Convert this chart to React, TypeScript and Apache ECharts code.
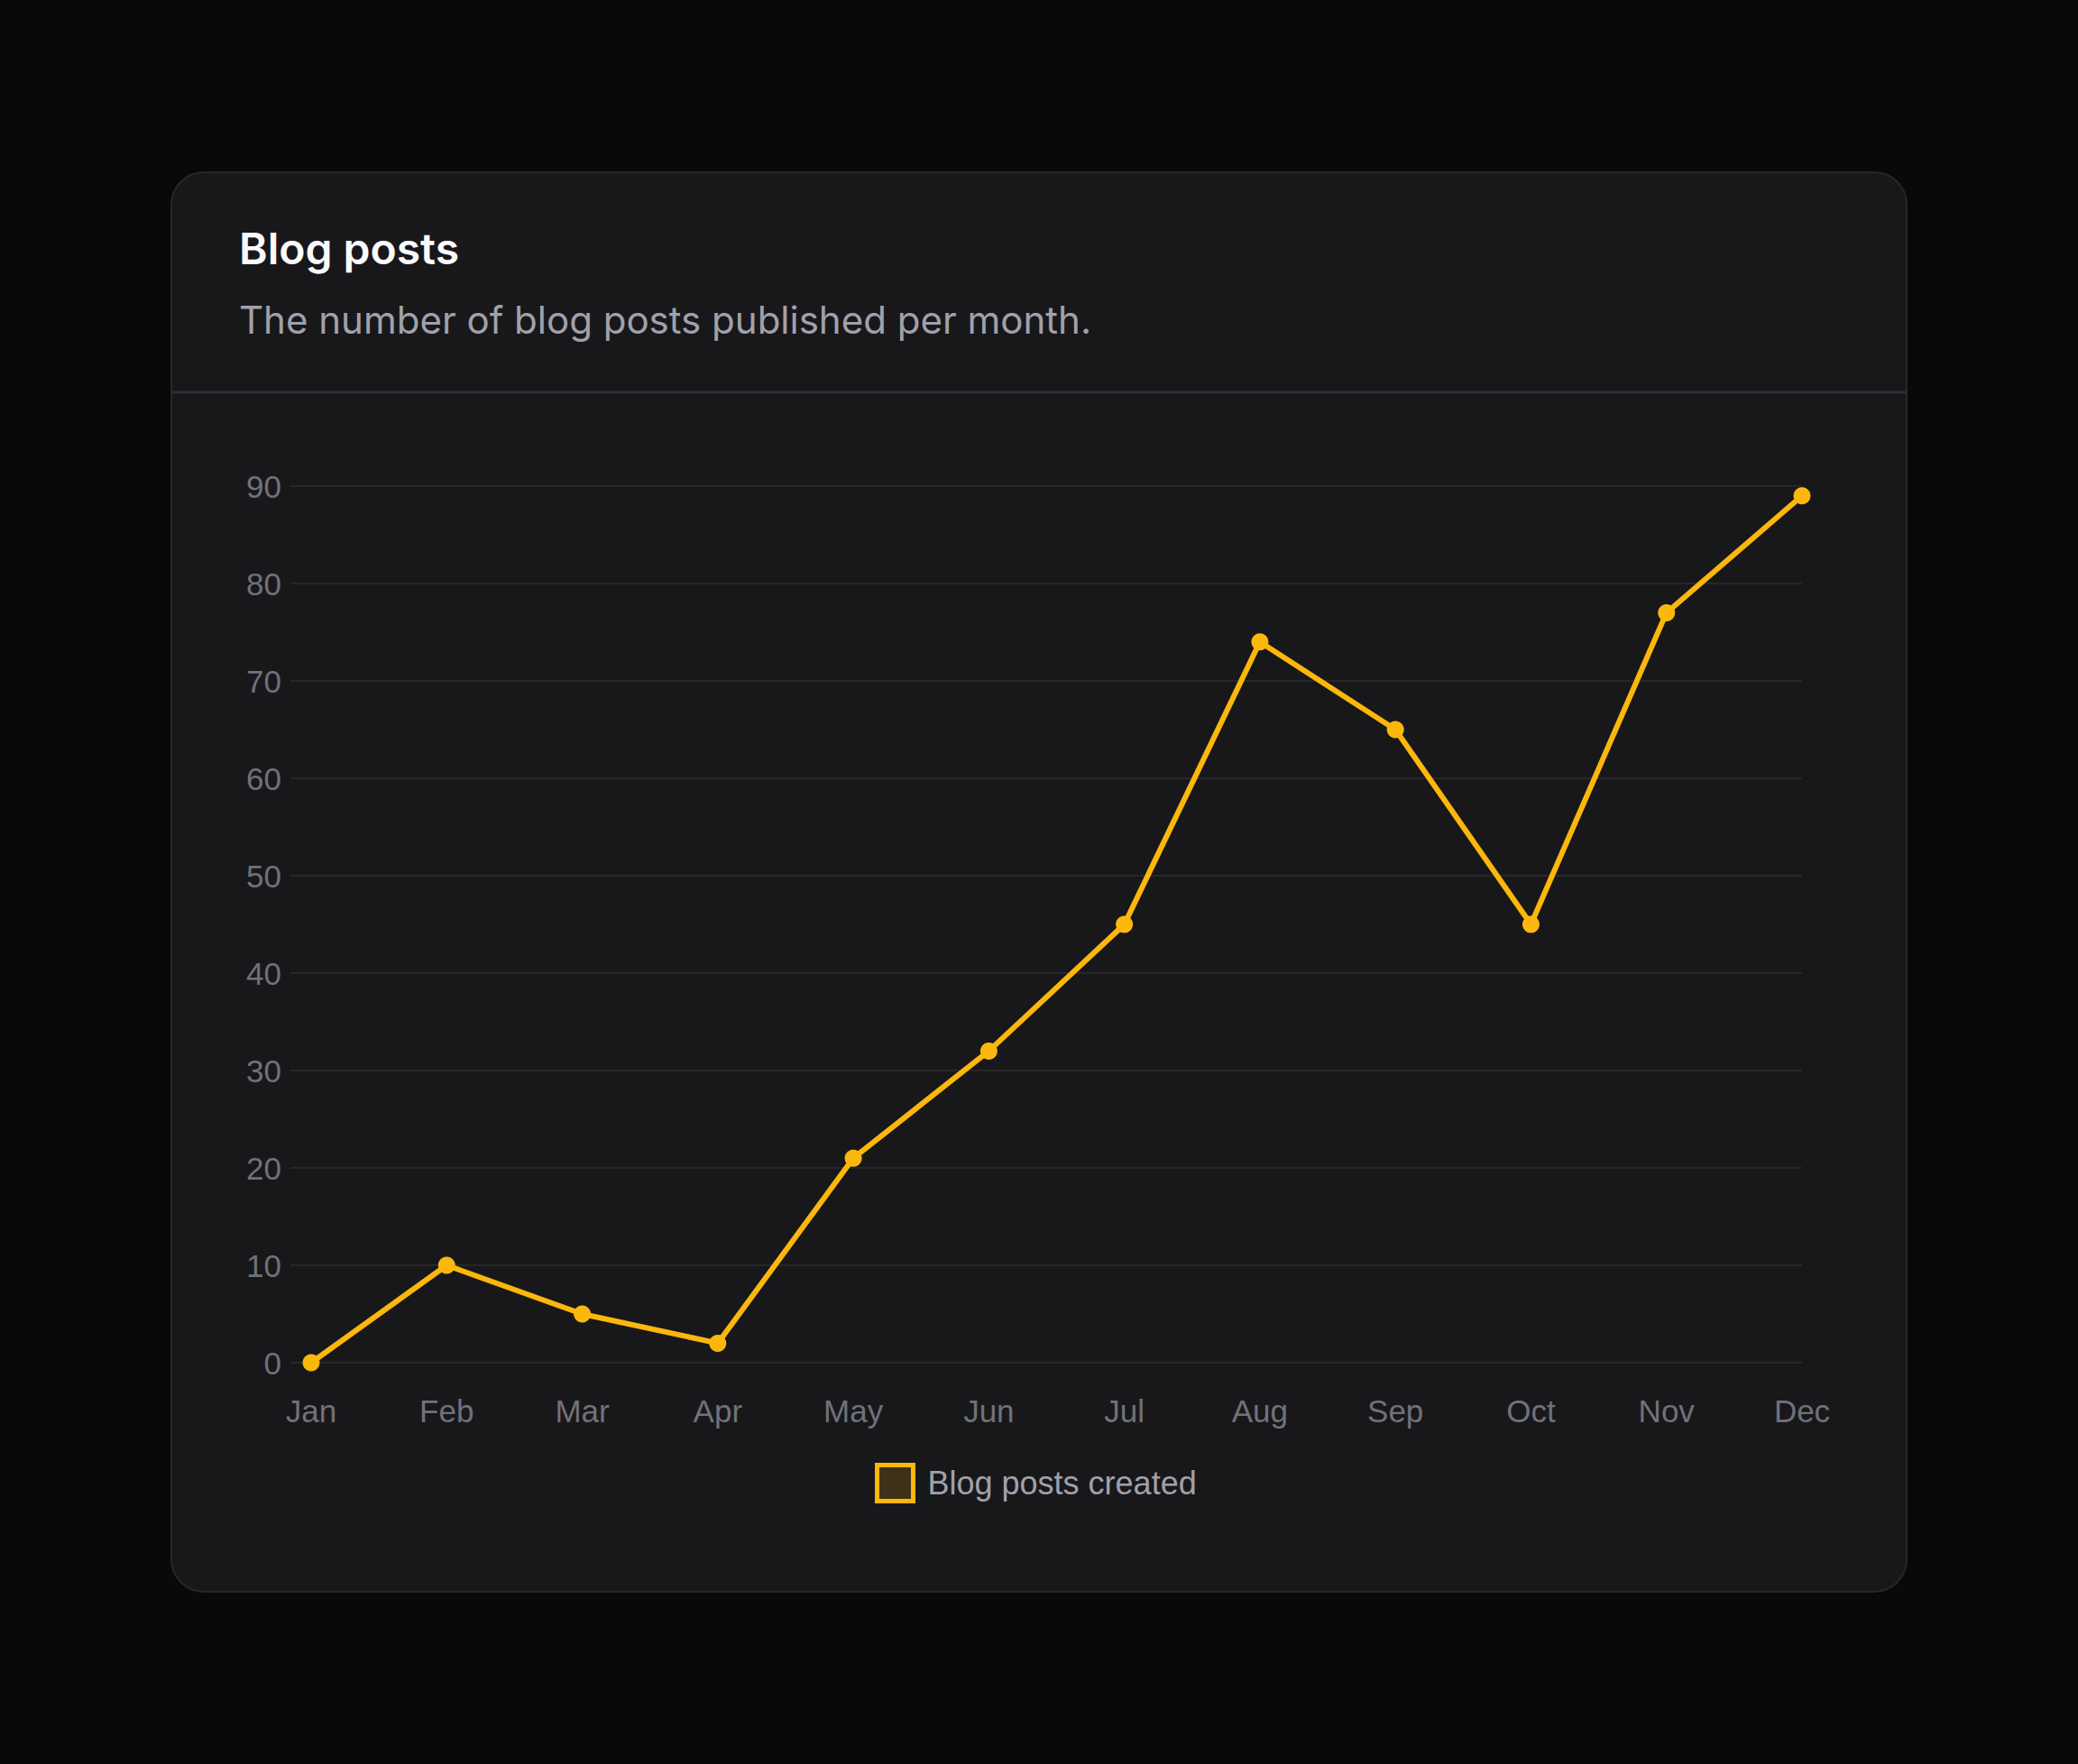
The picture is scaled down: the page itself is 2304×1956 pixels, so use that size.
import { useEffect, useRef } from "react";
import * as echarts from "echarts";

const months = ["Jan", "Feb", "Mar", "Apr", "May", "Jun", "Jul", "Aug", "Sep", "Oct", "Nov", "Dec"];
const postsCreated = [0, 10, 5, 2, 21, 32, 45, 74, 65, 45, 77, 89];
const yTicks = [0, 10, 20, 30, 40, 50, 60, 70, 80, 90];

const seriesName = "Blog posts created";
const titleText = "Blog posts";
const subtitleText = "The number of blog posts published per month.";

const YELLOW = "#fcb70c";

export default function App() {
  const chartRef = useRef<HTMLDivElement>(null);

  useEffect(() => {
    if (!chartRef.current) return;
    const chart = echarts.init(chartRef.current, null, { renderer: "svg" });

    chart.setOption({
      animation: false,
      backgroundColor: "#09090b",
      graphic: [
        {
          type: "rect",
          z: -10,
          silent: true,
          shape: { x: 190, y: 191, width: 1924, height: 1574, r: 36 },
          style: { fill: "#18181b", stroke: "#27272a", lineWidth: 2 },
        },
        {
          type: "line",
          z: -9,
          silent: true,
          shape: { x1: 191, y1: 435, x2: 2113, y2: 435 },
          style: { stroke: "#2e2e32", lineWidth: 3 },
        },
        {
          type: "text",
          x: 265,
          y: 275,
          style: {
            text: titleText,
            fill: "#fafafa",
            font: "600 48px Inter, 'Noto Sans', sans-serif",
            verticalAlign: "middle",
          },
        },
        {
          type: "text",
          x: 265,
          y: 354,
          style: {
            text: subtitleText,
            fill: "#a1a1aa",
            font: "400 42px Inter, 'Noto Sans', sans-serif",
            verticalAlign: "middle",
          },
        },
      ],
      grid: {
        left: 345,
        right: 306,
        top: 539,
        bottom: 445,
        containLabel: false,
      },
      legend: {
        data: [seriesName],
        left: 965,
        top: 1617,
        icon: "rect",
        itemWidth: 40,
        itemHeight: 40,
        itemStyle: {
          color: "rgba(252,183,12,0.16)",
          borderColor: YELLOW,
          borderWidth: 5,
        },
        textStyle: {
          color: "#a1a1aa",
          fontSize: 36,
          fontFamily: "'Liberation Sans', Arial, sans-serif",
          padding: [0, 0, 0, 11],
        },
      },
      xAxis: {
        type: "category",
        data: months,
        boundaryGap: false,
        axisLine: { show: false },
        axisTick: { show: false },
        axisLabel: {
          color: "#71717a",
          fontSize: 35,
          fontFamily: "'Liberation Sans', Arial, sans-serif",
          margin: 36,
        },
        splitLine: { show: false },
      },
      yAxis: {
        type: "value",
        min: yTicks[0],
        max: yTicks[yTicks.length - 1],
        interval: 10,
        axisLine: { show: false },
        axisTick: {
          show: true,
          length: 23,
          lineStyle: { color: "#27272a", width: 2 },
        },
        axisLabel: {
          color: "#71717a",
          fontSize: 35,
          fontFamily: "'Liberation Sans', Arial, sans-serif",
          margin: 33,
        },
        splitLine: { lineStyle: { color: "#27272a", width: 2 } },
      },
      series: [
        {
          name: seriesName,
          type: "line",
          data: postsCreated,
          symbol: "circle",
          symbolSize: 19,
          showSymbol: true,
          lineStyle: { color: YELLOW, width: 6 },
          itemStyle: { color: YELLOW },
        },
      ],
    });

    return () => {
      chart.dispose();
    };
  }, []);

  return (
    <div
      style={{
        position: "fixed",
        left: 0,
        top: 0,
        width: 2304,
        height: 1956,
        background: "#09090b",
      }}
    >
      <div ref={chartRef} style={{ width: 2304, height: 1956 }} />
    </div>
  );
}
